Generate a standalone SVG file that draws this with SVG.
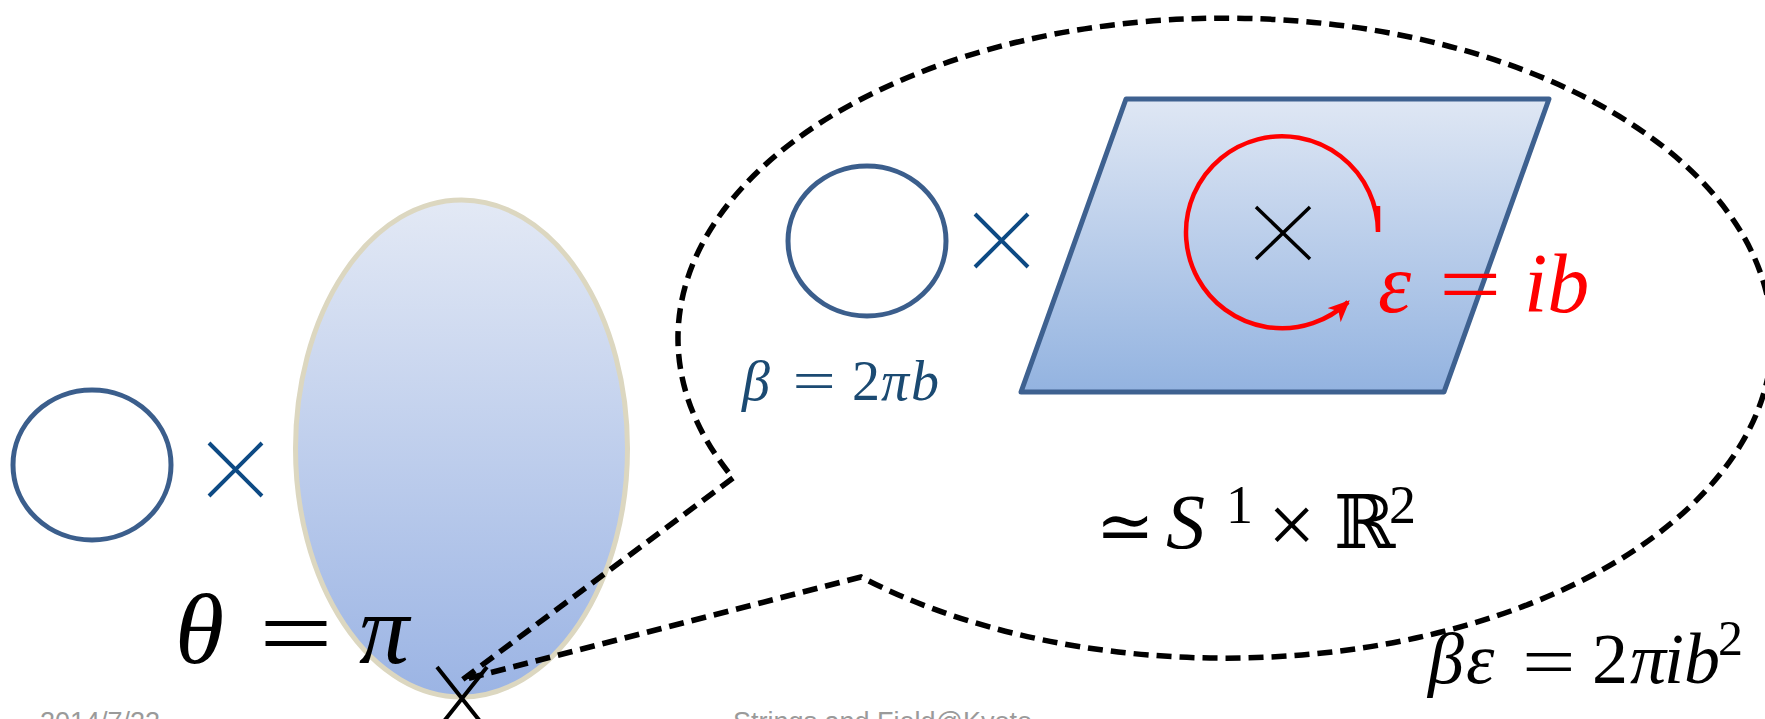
<svg xmlns="http://www.w3.org/2000/svg" width="1765" height="719" viewBox="0 0 1765 719">
<style>
.ring{fill:none;stroke:#3B5E8C;stroke-width:5}
.cross{stroke:#0D4A84;stroke-width:4;fill:none}
.bx{stroke:#000;stroke-width:3.5;fill:none}
.dash{fill:none;stroke:#000;stroke-width:5.5;stroke-dasharray:15 8;stroke-linejoin:miter}
.mi{font-family:"Liberation Serif","DejaVu Serif",serif;font-style:italic}
.mr{font-family:"Liberation Serif","DejaVu Serif",serif}
.eq{font-family:"DejaVu Serif",serif}
.foot{font-family:"Liberation Sans",Arial,sans-serif;font-size:27px;fill:#9A9A9A}
</style>
<defs>
<linearGradient id="gEll" x1="0" y1="0" x2="0" y2="1">
<stop offset="0" stop-color="#E3E9F5"/>
<stop offset="1" stop-color="#9BB4E4"/>
</linearGradient>
<linearGradient id="gPar" x1="0" y1="0" x2="0" y2="1">
<stop offset="0" stop-color="#DFE7F4"/>
<stop offset="1" stop-color="#93B3E0"/>
</linearGradient>
<marker id="redArrow" markerUnits="userSpaceOnUse" markerWidth="24" markerHeight="20" refX="16" refY="8" orient="auto" viewBox="0 0 20 16">
<path d="M0,0 L18,8 L0,16 L5,8 Z" fill="#FF0000"/>
</marker>
</defs>

<g id="left-circle">
<ellipse class="ring" cx="92" cy="465" rx="79" ry="75"/>
</g>
<g id="left-times">
<path class="cross" d="M209,443 L262,496 M262,443 L209,496"/>
</g>
<g id="big-ellipse">
<ellipse cx="461.5" cy="448.5" rx="166" ry="248.5" fill="url(#gEll)" stroke="#DCD7C0" stroke-width="5"/>
</g>
<g id="theta-label">
<text class="mi" x="175" y="663" font-size="100">θ</text>
<text class="mr" transform="translate(259,667) scale(1.31,1)" font-size="100">=</text>
<text class="mi" x="359" y="663" font-size="100">π</text>
</g>
<g id="point-x">
<path d="M437,667 L487,730 M487,667 L437,730" stroke="#000" stroke-width="4" fill="none"/>
</g>

<g id="connectors">
<path class="dash" d="M733,478 L462,680 L861,577 A547,320 0 1 0 733,478"/>
</g>

<g id="inner-circle">
<ellipse class="ring" cx="867" cy="241" rx="79" ry="75"/>
</g>
<g id="inner-times">
<path class="cross" d="M975,214 L1028,267 M1028,214 L975,267"/>
</g>
<g id="plane">
<polygon points="1126,99 1549,99 1444,392 1021,392" fill="url(#gPar)" stroke="#3E6190" stroke-width="5" stroke-linejoin="round"/>
<path class="bx" d="M1256,207 L1310,259 M1310,207 L1256,259"/>
<path d="M1378,206 L1378,232 A96,96 0 1 0 1348,302" fill="none" stroke="#FF0000" stroke-width="4.5" marker-end="url(#redArrow)"/>
</g>
<g id="eps-label" fill="#FF0000">
<text class="mi" x="1378" y="312" font-size="84">ε</text>
<text class="mr" transform="translate(1439,313) scale(1.32,1)" font-size="84">=</text>
<text class="mi" x="1524" y="312" font-size="84">ib</text>
</g>
<g id="beta-label" fill="#1B4A72">
<text class="mi" x="742" y="400" font-size="56">β</text>
<text class="mr" transform="translate(792.4,400) scale(1.37,1)" font-size="56">=</text>
<text class="mr" x="852" y="400" font-size="56">2</text>
<text class="mi" x="881" y="400" font-size="56">π</text>
<text class="mi" x="911" y="400" font-size="56">b</text>
</g>
<g id="iso-label">
<text class="eq" x="1096" y="550" font-size="70">≃</text>
<text class="mi" x="1166" y="548" font-size="78">S</text>
<text class="mr" x="1226" y="523" font-size="54">1</text>
<text class="mr" x="1268" y="553" font-size="84">×</text>
<text class="eq" x="1334" y="548" font-size="74">ℝ</text>
<text class="mr" x="1389" y="523" font-size="54">2</text>
</g>
<g id="product-label">
<text class="mi" x="1428" y="683" font-size="72">β</text>
<text class="mi" x="1466" y="683" font-size="72">ε</text>
<text class="mr" transform="translate(1522,686) scale(1.32,1)" font-size="72">=</text>
<text class="mr" x="1592" y="683" font-size="72">2</text>
<text class="mi" x="1630" y="683" font-size="72">π</text>
<text class="mi" x="1664" y="683" font-size="72">ib</text>
<text class="mr" x="1718" y="655" font-size="50">2</text>
</g>
<g id="footer">
<text class="foot" x="40" y="731">2014/7/22</text>
<text class="foot" x="733" y="731">Strings and Field@Kyoto</text>
</g>
</svg>
